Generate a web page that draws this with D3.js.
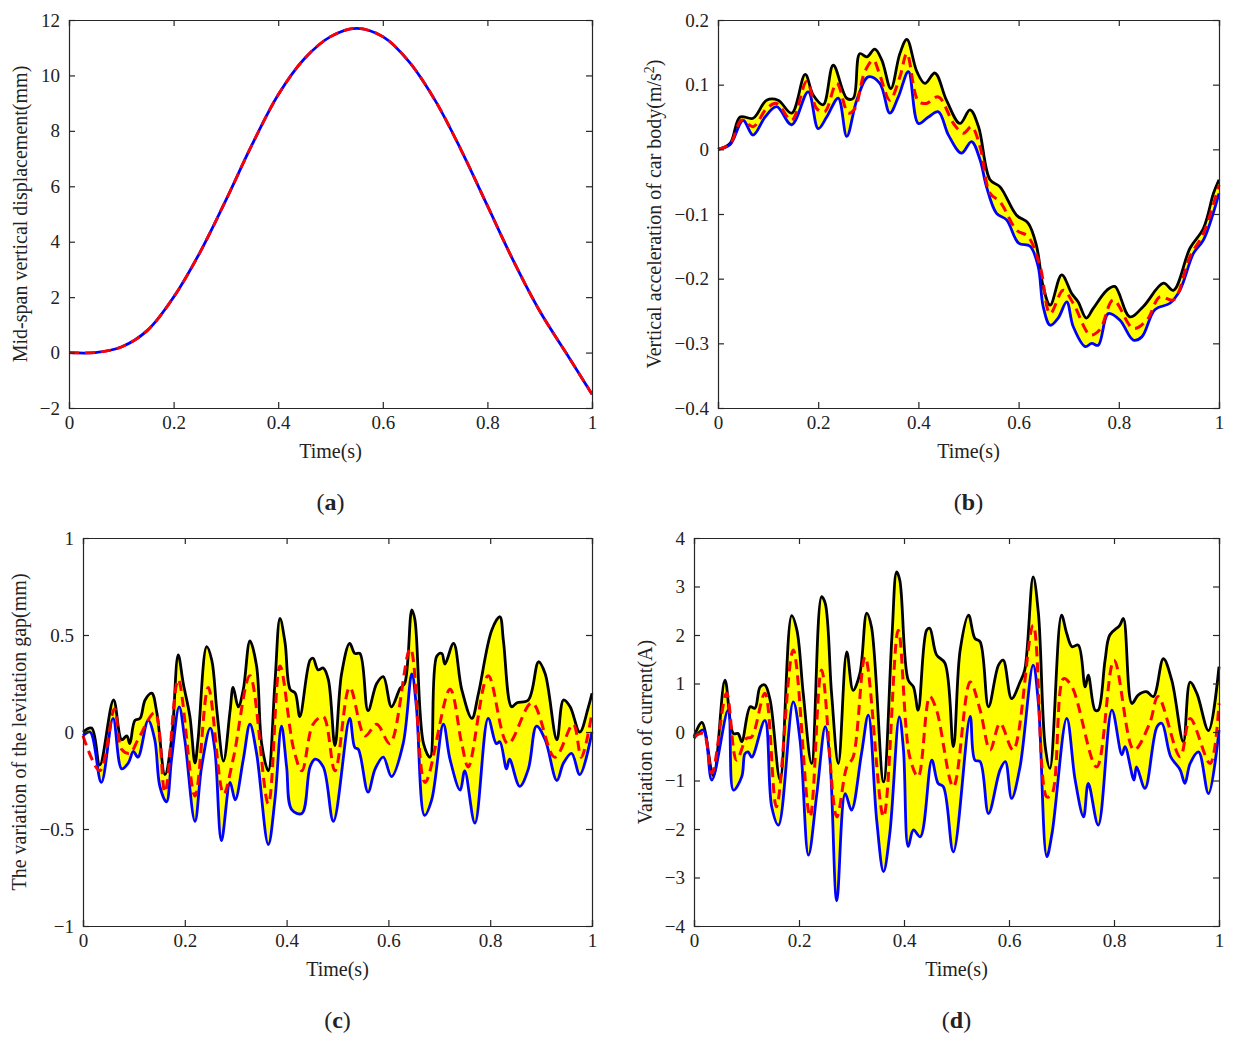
<!DOCTYPE html>
<html>
<head>
<meta charset="utf-8">
<script src="https://cdn.jsdelivr.net/npm/d3@7"></script>
<style>
  body { margin: 0; background: #fff; }
  svg text { font-family: "Liberation Serif", "DejaVu Serif", serif; fill: #222; }
</style>
</head>
<body>
<svg id="chart" width="1236" height="1045"></svg>
<script>
// ---- data (a) mid-span displacement
const aT = [0,0.05,0.1,0.15,0.2,0.25,0.3,0.35,0.4,0.45,0.5,0.55,0.6,0.65,0.7,0.75,0.8,0.85,0.9,0.95,1];
const aV = [0,0.0,0.2,0.8,2.0,3.6,5.5,7.5,9.3,10.6,11.4,11.7,11.4,10.5,9.1,7.3,5.3,3.3,1.5,0.0,-1.5];

// ---- data (b) car body acceleration
const bUpT = [0,0.024,0.044,0.07,0.097,0.12,0.147,0.174,0.19,0.21,0.23,0.257,0.27,0.283,0.297,0.313,0.327,0.345,0.363,0.377,0.397,0.413,0.433,0.456,0.483,0.503,0.52,0.543,0.563,0.596,0.619,0.636,0.649,0.663,0.686,0.706,0.719,0.735,0.749,0.776,0.792,0.822,0.849,0.889,0.909,0.942,0.969,0.989,1];
const bUpV = [0,0.009,0.05,0.048,0.076,0.076,0.056,0.116,0.084,0.069,0.13,0.079,0.079,0.148,0.143,0.155,0.138,0.094,0.148,0.17,0.12,0.102,0.118,0.076,0.04,0.061,0.035,-0.047,-0.058,-0.102,-0.114,-0.15,-0.212,-0.241,-0.194,-0.223,-0.236,-0.261,-0.246,-0.218,-0.212,-0.259,-0.243,-0.207,-0.218,-0.153,-0.122,-0.068,-0.047];
const bLoT = [0,0.024,0.05,0.07,0.094,0.117,0.147,0.18,0.2,0.217,0.24,0.257,0.277,0.3,0.323,0.343,0.36,0.38,0.4,0.42,0.44,0.46,0.486,0.506,0.523,0.536,0.556,0.576,0.6,0.623,0.639,0.649,0.663,0.679,0.696,0.709,0.733,0.746,0.759,0.779,0.802,0.829,0.846,0.872,0.902,0.922,0.949,0.969,1];
const bLoV = [0,0.007,0.045,0.022,0.05,0.066,0.038,0.089,0.032,0.05,0.079,0.02,0.076,0.112,0.102,0.056,0.081,0.12,0.04,0.05,0.058,0.022,-0.006,0.012,-0.016,-0.058,-0.099,-0.109,-0.145,-0.15,-0.181,-0.243,-0.272,-0.261,-0.236,-0.274,-0.305,-0.3,-0.303,-0.254,-0.264,-0.295,-0.29,-0.248,-0.238,-0.218,-0.161,-0.14,-0.068];
const bMeT = [0,0.024,0.047,0.07,0.097,0.117,0.147,0.177,0.197,0.213,0.237,0.26,0.273,0.293,0.31,0.323,0.343,0.363,0.377,0.4,0.416,0.44,0.47,0.49,0.506,0.523,0.543,0.563,0.596,0.619,0.643,0.663,0.689,0.709,0.743,0.762,0.789,0.829,0.856,0.882,0.909,0.942,0.969,1];
const bMeV = [0,0.008,0.045,0.035,0.063,0.071,0.045,0.105,0.063,0.058,0.102,0.056,0.063,0.12,0.138,0.115,0.076,0.112,0.148,0.074,0.071,0.081,0.04,0.025,0.035,0.004,-0.068,-0.081,-0.125,-0.135,-0.181,-0.254,-0.218,-0.238,-0.287,-0.279,-0.233,-0.277,-0.264,-0.228,-0.233,-0.166,-0.13,-0.055];

// ---- data (c) levitation gap
const cUpT = [0,0.017,0.033,0.06,0.076,0.086,0.092,0.102,0.112,0.122,0.135,0.145,0.161,0.174,0.187,0.197,0.21,0.22,0.226,0.243,0.253,0.263,0.276,0.289,0.295,0.305,0.315,0.328,0.341,0.351,0.364,0.377,0.387,0.397,0.407,0.417,0.426,0.446,0.452,0.462,0.472,0.482,0.495,0.508,0.524,0.534,0.544,0.56,0.577,0.59,0.606,0.623,0.632,0.646,0.652,0.669,0.682,0.695,0.705,0.711,0.728,0.744,0.764,0.777,0.803,0.819,0.826,0.842,0.852,0.875,0.895,0.908,0.931,0.944,0.957,0.976,0.993,1];
const cUpV = [0,0.02,-0.17,0.165,-0.04,-0.02,-0.06,0.06,0.07,0.165,0.2,0.1,-0.22,-0.04,0.397,0.25,0.08,-0.16,-0.04,0.44,0.37,0.11,-0.15,0.11,0.23,0.13,0.22,0.47,0.34,-0.06,-0.2,0.25,0.585,0.46,0.22,0.2,0.08,0.37,0.38,0.32,0.33,0.27,-0.07,0.3,0.457,0.405,0.405,0.11,0.25,0.285,0.13,0.225,0.25,0.63,0.58,-0.06,-0.13,0.39,0.405,0.35,0.457,0.22,0.07,0.2,0.525,0.594,0.47,0.13,0.15,0.165,0.362,0.3,-0.04,0.165,0.13,0,0.13,0.2];
const cLoT = [0,0.014,0.036,0.059,0.076,0.089,0.099,0.108,0.128,0.141,0.151,0.164,0.174,0.189,0.2,0.22,0.233,0.25,0.259,0.272,0.289,0.299,0.315,0.328,0.341,0.364,0.377,0.39,0.4,0.41,0.43,0.446,0.456,0.472,0.492,0.524,0.534,0.541,0.56,0.574,0.59,0.606,0.629,0.646,0.655,0.671,0.685,0.708,0.721,0.741,0.75,0.77,0.796,0.812,0.819,0.832,0.838,0.858,0.875,0.891,0.908,0.931,0.944,0.96,0.976,1];
const cLoV = [-0.02,0,-0.26,0.07,-0.19,-0.16,-0.1,-0.13,0.06,-0.04,-0.28,-0.36,-0.14,0.13,-0.04,-0.46,-0.18,0.02,-0.09,-0.56,-0.26,-0.35,-0.14,0.04,-0.11,-0.58,-0.35,0.03,-0.18,-0.4,-0.42,-0.18,-0.14,-0.18,-0.46,0.07,-0.08,-0.09,-0.31,-0.19,-0.13,-0.23,-0.06,0.3,0.13,-0.43,-0.35,0.04,-0.14,-0.3,-0.2,-0.47,0.07,-0.06,-0.05,-0.19,-0.14,-0.28,-0.19,0.03,-0.04,-0.25,-0.16,-0.11,-0.22,0];
const cMeT = [0,0.033,0.062,0.076,0.092,0.108,0.141,0.161,0.187,0.22,0.246,0.276,0.295,0.328,0.364,0.387,0.414,0.43,0.452,0.472,0.495,0.524,0.554,0.577,0.603,0.643,0.672,0.721,0.744,0.757,0.796,0.835,0.882,0.927,0.963,0.979,1];
const cMeV = [-0.02,-0.2,0.12,-0.09,-0.11,-0.04,0.1,-0.31,0.27,-0.33,0.23,-0.32,-0.14,0.29,-0.37,0.34,-0.09,-0.2,0.04,0.08,-0.2,0.23,-0.02,0.04,-0.06,0.43,-0.26,0.22,-0.06,-0.18,0.29,-0.06,0.15,-0.13,0.04,-0.13,0.1];

// ---- data (d) current
const dUpT = [0,0.015,0.037,0.059,0.075,0.084,0.091,0.107,0.116,0.126,0.135,0.145,0.164,0.186,0.196,0.208,0.224,0.243,0.25,0.262,0.275,0.291,0.303,0.316,0.329,0.338,0.361,0.377,0.386,0.392,0.408,0.418,0.427,0.443,0.449,0.462,0.478,0.494,0.507,0.523,0.535,0.545,0.561,0.58,0.589,0.605,0.621,0.63,0.646,0.656,0.669,0.678,0.7,0.71,0.72,0.732,0.745,0.751,0.764,0.77,0.783,0.792,0.811,0.818,0.834,0.846,0.862,0.875,0.894,0.91,0.932,0.945,0.958,0.98,1];
const dUpV = [-0.1,0.2,-0.9,1.07,-0.03,-0.03,-0.2,0.52,0.49,0.93,0.97,0.66,-0.99,2.4,2.1,0.8,-0.65,2.79,2.65,0.8,-0.65,1.65,0.86,1.21,2.45,2.17,-1.03,1.96,3.3,3.13,1.07,0.93,0.45,2.1,2.14,1.59,1.42,-0.3,1.69,2.41,1.93,1.86,0.52,1.38,1.48,0.69,1.03,1.28,3.2,2.45,-0.3,-0.75,2.41,2.03,1.76,1.79,0.93,1.17,0.45,0.45,1.48,2.0,2.2,2.34,0.59,0.76,0.83,0.73,1.51,1.07,-0.2,1.03,0.79,0.03,1.35];
const dLoT = [0,0.018,0.034,0.065,0.075,0.091,0.097,0.103,0.11,0.135,0.148,0.161,0.189,0.202,0.218,0.234,0.25,0.259,0.272,0.288,0.3,0.319,0.332,0.348,0.361,0.373,0.391,0.399,0.408,0.418,0.431,0.453,0.465,0.475,0.494,0.526,0.535,0.545,0.561,0.583,0.593,0.605,0.621,0.646,0.656,0.672,0.682,0.71,0.726,0.742,0.751,0.77,0.796,0.815,0.821,0.838,0.843,0.859,0.882,0.891,0.908,0.926,0.935,0.945,0.961,0.98,1];
const dLoV = [-0.13,0.04,-0.99,0.45,-1.2,-0.92,-0.45,-0.41,-0.52,0.24,-1.54,-1.92,0.62,-0.17,-2.54,-1.27,0.11,-0.58,-3.48,-1.27,-1.61,-0.45,0.35,-1.82,-2.88,-2.09,0.31,-0.37,-2.36,-2.02,-2.16,-0.58,-1.06,-1.13,-2.47,0.32,-0.58,-0.61,-1.68,-0.78,-0.61,-1.37,-0.72,1.38,0.59,-2.57,-2.09,0.28,-0.99,-1.75,-1.06,-1.92,0.45,-0.47,-0.3,-0.99,-0.72,-1.16,0.11,0.18,-0.51,-0.78,-1.06,-0.65,-0.41,-1.27,0.04];
const dMeT = [0,0.018,0.034,0.062,0.081,0.1,0.11,0.135,0.157,0.189,0.221,0.243,0.272,0.291,0.303,0.326,0.361,0.389,0.411,0.427,0.449,0.462,0.494,0.526,0.545,0.564,0.583,0.608,0.646,0.672,0.682,0.704,0.72,0.767,0.8,0.838,0.868,0.884,0.926,0.945,0.983,1];
const dMeV = [-0.1,-0.03,-0.85,0.8,-0.58,-0.13,-0.1,0.8,-1.54,1.69,-1.75,1.28,-1.75,-0.72,-0.52,1.55,-1.75,2.1,-0.52,-0.92,0.73,0.45,-1.13,1.03,0.45,-0.37,0.18,-0.37,2.2,-1.34,-1.27,1.1,0.93,-0.72,1.48,-0.37,0.18,0.73,-0.51,0.28,-0.65,0.59];

const xTicks = [0, 0.2, 0.4, 0.6, 0.8, 1];

const svg = d3.select("#chart");

function zip(t, v) { return t.map((d, i) => [d, v[i]]); }

function panel(o) {
  const x = d3.scaleLinear().domain([0, 1]).range([o.x0, o.x1]);
  const y = d3.scaleLinear().domain(o.yDom).range([o.y1, o.y0]);
  const g = svg.append("g");
  const line = d3.line().x(d => x(d[0])).y(d => y(d[1])).curve(d3.curveCatmullRom.alpha(0.5));

  if (o.up) {
    const up = zip(o.up[0], o.up[1]);
    const lo = zip(o.lo[0], o.lo[1]).reverse();
    const p = line(up) + "L" + line(lo).slice(1) + "Z";
    g.append("path").attr("d", p).attr("fill", "#ffff00").attr("stroke", "none");
    g.append("path").attr("d", line(up)).attr("fill", "none").attr("stroke", "#000").attr("stroke-width", 2.8);
    g.append("path").attr("d", line(zip(o.lo[0], o.lo[1]))).attr("fill", "none").attr("stroke", "#0000ff").attr("stroke-width", 2.8);
    g.append("path").attr("d", line(zip(o.me[0], o.me[1]))).attr("fill", "none").attr("stroke", "#ff0000")
      .attr("stroke-width", 3).attr("stroke-dasharray", "10,6");
  } else {
    const d = zip(o.t, o.v);
    g.append("path").attr("d", line(d)).attr("fill", "none").attr("stroke", "#0000ff").attr("stroke-width", 2.8);
    g.append("path").attr("d", line(d)).attr("fill", "none").attr("stroke", "#ff0000")
      .attr("stroke-width", 2.8).attr("stroke-dasharray", "10,6");
  }

  // axes, MATLAB style box with inward ticks
  const fmt = v => (v < 0 ? "\u2212" + Math.abs(v) : String(v));
  const fs = "19px";
  g.append("g").attr("transform", `translate(0,${o.y1})`)
    .call(d3.axisBottom(x).tickValues(xTicks).tickSize(-6).tickPadding(8).tickFormat(fmt))
    .call(a => a.selectAll("text").style("font-size", fs));
  g.append("g").attr("transform", `translate(0,${o.y0})`)
    .call(d3.axisTop(x).tickValues(xTicks).tickSize(-6).tickFormat(""));
  g.append("g").attr("transform", `translate(${o.x0},0)`)
    .call(d3.axisLeft(y).tickValues(o.yTicks).tickSize(-6).tickPadding(9).tickFormat(fmt))
    .call(a => a.selectAll("text").style("font-size", fs));
  g.append("g").attr("transform", `translate(${o.x1},0)`)
    .call(d3.axisRight(y).tickValues(o.yTicks).tickSize(-6).tickFormat(""));
  g.selectAll(".domain, .tick line").attr("stroke", "#262626").attr("stroke-width", 1.2);

  g.append("text").attr("x", (o.x0 + o.x1) / 2).attr("y", o.y1 + 50)
    .attr("text-anchor", "middle").style("font-size", "20px").text("Time(s)");
  const yl = g.append("text")
    .attr("transform", `translate(${o.x0 - o.ylOff},${(o.y0 + o.y1) / 2}) rotate(-90)`)
    .attr("text-anchor", "middle").style("font-size", "20px");
  o.ylab(yl);

  const lt = g.append("text").attr("x", (o.x0 + o.x1) / 2).attr("y", o.y1 + 102)
    .attr("text-anchor", "middle").style("font-size", "24px");
  lt.append("tspan").text("(");
  lt.append("tspan").attr("font-weight", "bold").text(o.letter);
  lt.append("tspan").text(")");
}

panel({ x0: 69, x1: 592, y0: 20, y1: 408, yDom: [-2, 12], yTicks: [-2, 0, 2, 4, 6, 8, 10, 12],
  t: aT, v: aV, letter: "a", ylOff: 42,
  ylab: s => s.text("Mid-span vertical displacement(mm)") });

panel({ x0: 718, x1: 1219, y0: 20, y1: 408, yDom: [-0.4, 0.2], yTicks: [-0.4, -0.3, -0.2, -0.1, 0, 0.1, 0.2],
  up: [bUpT, bUpV], lo: [bLoT, bLoV], me: [bMeT, bMeV], letter: "b", ylOff: 57,
  ylab: s => { s.append("tspan").text("Vertical acceleration of car body(m/s");
    s.append("tspan").attr("dy", -7).style("font-size", "14px").text("2");
    s.append("tspan").attr("dy", 7).text(")"); } });

panel({ x0: 83, x1: 592, y0: 538, y1: 926, yDom: [-1, 1], yTicks: [-1, -0.5, 0, 0.5, 1],
  up: [cUpT, cUpV], lo: [cLoT, cLoV], me: [cMeT, cMeV], letter: "c", ylOff: 57,
  ylab: s => s.text("The variation of the levitation gap(mm)") });

panel({ x0: 694, x1: 1219, y0: 538, y1: 926, yDom: [-4, 4], yTicks: [-4, -3, -2, -1, 0, 1, 2, 3, 4],
  up: [dUpT, dUpV], lo: [dLoT, dLoV], me: [dMeT, dMeV], letter: "d", ylOff: 42,
  ylab: s => s.text("Variation of current(A)") });
</script>
</body>
</html>
